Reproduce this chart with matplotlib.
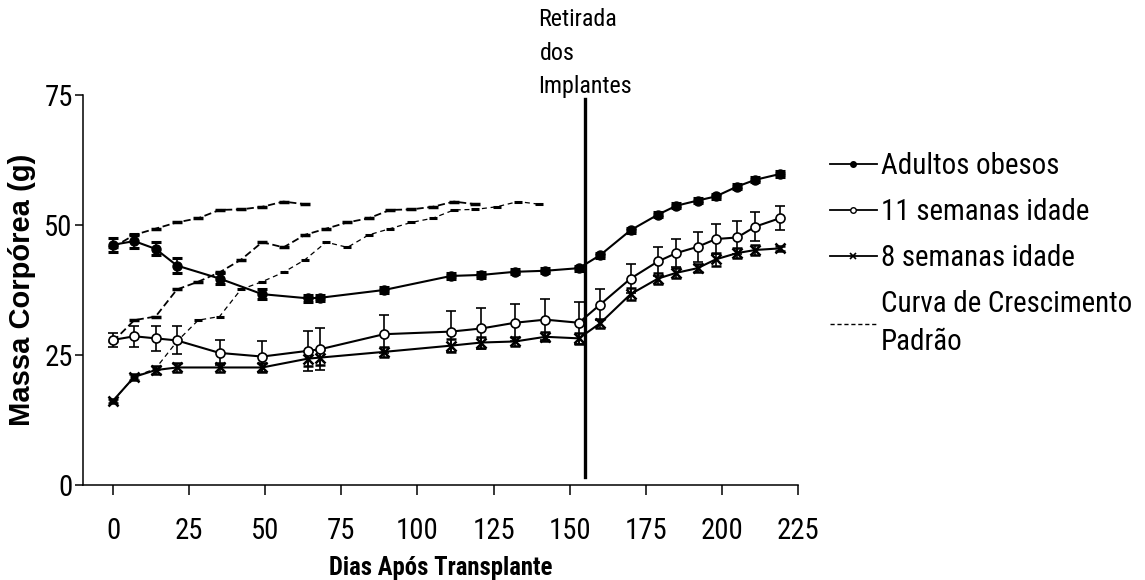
import matplotlib
matplotlib.use("Agg")
import matplotlib.pyplot as plt
from matplotlib import font_manager
from matplotlib.lines import Line2D

# ---- data -------------------------------------------------------------
days = [0, 7, 14, 21, 35, 49, 64, 68, 89, 111, 121, 132, 142, 153,
        160, 170, 179, 185, 192, 198, 205, 211, 219]

adultos_mean = [46.2, 46.9, 45.4, 42.2, 39.7, 36.7, 35.9, 36.0, 37.5, 40.2,
                40.4, 41.0, 41.2, 41.7, 44.2, 49.0, 52.0, 53.7, 54.7, 55.5,
                57.4, 58.7, 59.8]
adultos_sem = [1.35, 1.4, 1.25, 1.5, 1.0, 1.0, 0.7, 0.6, 0.5, 0.5, 0.5, 0.5,
               0.5, 0.5, 0.5, 0.5, 0.5, 0.5, 0.5, 0.5, 0.5, 0.5, 0.5]

sem11_mean = [27.9, 28.6, 28.2, 27.8, 25.4, 24.7, 25.8, 26.1, 29.0, 29.5,
              30.1, 31.2, 31.8, 31.2, 34.7, 39.7, 43.0, 44.6, 45.8, 47.3,
              47.6, 49.7, 51.3]
sem11_sem = [1.35, 2.05, 2.4, 2.7, 2.4, 2.9, 3.9, 4.0, 3.65, 4.0, 3.9, 3.6,
             4.0, 4.0, 2.9, 2.8, 2.8, 2.7, 2.9, 2.95, 3.1, 2.8, 2.3]

sem8_mean = [16.2, 20.8, 22.1, 22.6, 22.6, 22.6, 24.3, 24.5, 25.6, 26.8,
             27.4, 27.6, 28.5, 28.2, 31.1, 36.7, 39.7, 40.8, 41.7, 43.4,
             44.6, 45.2, 45.5]
sem8_sem = [0.4, 0.6, 0.7, 0.8, 0.9, 0.9, 1.5, 1.5, 1.0, 1.2, 1.1, 0.9,
            0.9, 1.0, 0.9, 1.2, 1.0, 1.0, 0.8, 1.2, 1.0, 0.9, 0.5]

# standard growth curve, weekly, started from each group's initial weight
curva_adultos_days = [0, 7, 14, 21, 28, 35, 42, 49, 56, 63]
curva_adultos = [45.7, 48.1, 49.3, 50.5, 51.3, 52.9, 53.0, 53.5, 54.5, 54.0]

curva_11_days = [0, 7, 14, 21, 28, 35, 42, 49, 56, 63, 70, 77, 84, 91, 98,
                 105, 112, 119]
curva_11 = [27.6, 31.7, 32.4, 37.6, 39.1, 40.9, 43.3, 46.7, 45.7, 48.1,
            49.3, 50.5, 51.3, 52.9, 53.0, 53.5, 54.5, 54.0]

curva_8_days = [0, 7, 14, 21, 28, 35, 42, 49, 56, 63, 70, 77, 84, 91, 98,
                105, 112, 119, 126, 133, 140]
curva_8 = [16.2, 20.8, 22.4, 27.6, 31.7, 32.4, 37.6, 39.1, 40.9, 43.3,
           46.7, 45.7, 48.1, 49.3, 50.5, 51.3, 52.9, 53.0, 53.5, 54.5, 54.0]

retirada_day = 155

x_ticks = [0, 25, 50, 75, 100, 125, 150, 175, 200, 225]
y_ticks = [0, 25, 50, 75]

legend_labels = ["Adultos obesos", "11 semanas idade", "8 semanas idade",
                 "Curva de Crescimento\nPadrão"]
annotation_lines = ["Retirada", "dos", "Implantes"]

# ---- fonts ------------------------------------------------------------
available = {f.name for f in font_manager.fontManager.ttflist}
condensed_candidates = ["Liberation Sans Narrow", "Roboto Condensed",
                        "Open Sans Condensed", "DejaVu Sans Condensed"]
narrow = next((n for n in condensed_candidates if n in available), None)
regular = "Liberation Sans"
if narrow is None:
    narrow = regular
    size_scale = 1.0
else:
    size_scale = 1.15
plt.rcParams["font.family"] = [narrow, "DejaVu Sans"]

tick_size = 18 * size_scale
legend_size = 18.2 * size_scale
xlabel_size = 15.5 * size_scale
note_size = 15 * size_scale

# ---- figure -----------------------------------------------------------
fig = plt.figure(figsize=(11.45, 5.8), dpi=100)
ax = fig.add_axes([0.0721, 0.1638, 0.6249, 0.6724])

ax.set_xlim(-10, 225)
ax.set_ylim(0, 75)

for side in ("top", "right"):
    ax.spines[side].set_visible(False)
for side in ("left", "bottom"):
    ax.spines[side].set_linewidth(1.1)

ax.set_xticks(x_ticks)
ax.set_yticks(y_ticks)
ax.tick_params(axis="x", direction="out", length=7, width=1.1, pad=16,
               labelsize=tick_size)
ax.tick_params(axis="y", direction="out", length=6, width=1.1, pad=1,
               labelsize=tick_size)

# growth curves (dashed)
heavy = dict(color="black", lw=1.3, linestyle=(0, (4, 2)), marker="_",
             markersize=7, markeredgewidth=2.5, zorder=2)
light = dict(color="black", lw=0.9, linestyle=(0, (4, 3)), marker="_",
             markersize=6, markeredgewidth=2.2, zorder=2)
ax.plot(curva_adultos_days, curva_adultos, **heavy)
ax.plot(curva_11_days, curva_11, **heavy)
ax.plot(curva_8_days, curva_8, **light)

# groups with error bars
common = dict(color="black", ecolor="black", elinewidth=1.2, capsize=3.5,
              capthick=2.2, lw=1.5, zorder=3)
ax.errorbar(days, sem8_mean, yerr=sem8_sem, marker="x", markersize=7,
            markeredgewidth=1.8, **common)
ax.errorbar(days, sem11_mean, yerr=sem11_sem, marker="o", markersize=6.5,
            markerfacecolor="white", markeredgecolor="black",
            markeredgewidth=1.2, **common)
ax.errorbar(days, adultos_mean, yerr=adultos_sem, marker="o", markersize=6.5,
            markerfacecolor="black", markeredgecolor="black", **common)

# implant removal marker
ax.axvline(retirada_day, ymin=0.021, ymax=0.99, color="black", lw=2.4,
           zorder=5)
line_y = [20, 54, 86]
line_x = [578, 557, 585]
for text, px, py in zip(annotation_lines, line_x, line_y):
    fig.text(px / 1145, 1 - py / 580, text, ha="center", va="center",
             fontsize=note_size, family=[narrow, "DejaVu Sans"])

ax.set_xlabel("Dias Após Transplante", fontsize=xlabel_size,
              fontweight="bold", family=[narrow, "DejaVu Sans"], labelpad=8)
ax.set_ylabel("Massa Corpórea (g)", fontsize=21, fontweight="bold",
              family=[regular, "DejaVu Sans"], labelpad=6)

# legend
handles = [
    Line2D([], [], color="black", lw=1.3, marker="o", markersize=4,
           markerfacecolor="black"),
    Line2D([], [], color="black", lw=1.3, marker="o", markersize=4,
           markerfacecolor="white", markeredgewidth=1.0),
    Line2D([], [], color="black", lw=1.3, marker="x", markersize=4,
           markeredgewidth=1.2),
    Line2D([], [], color="black", lw=1.0, linestyle=(0, (3, 2))),
]
leg = fig.legend(handles, legend_labels, loc="upper left",
                 bbox_to_anchor=(830 / 1145, 1 - 152 / 580), frameon=False,
                 fontsize=legend_size, handlelength=1.6, handletextpad=0.15,
                 labelspacing=0.62, borderaxespad=0, borderpad=0)
leg.get_texts()[3].set_linespacing(1.45)

fig.savefig("out.png", dpi=100)
